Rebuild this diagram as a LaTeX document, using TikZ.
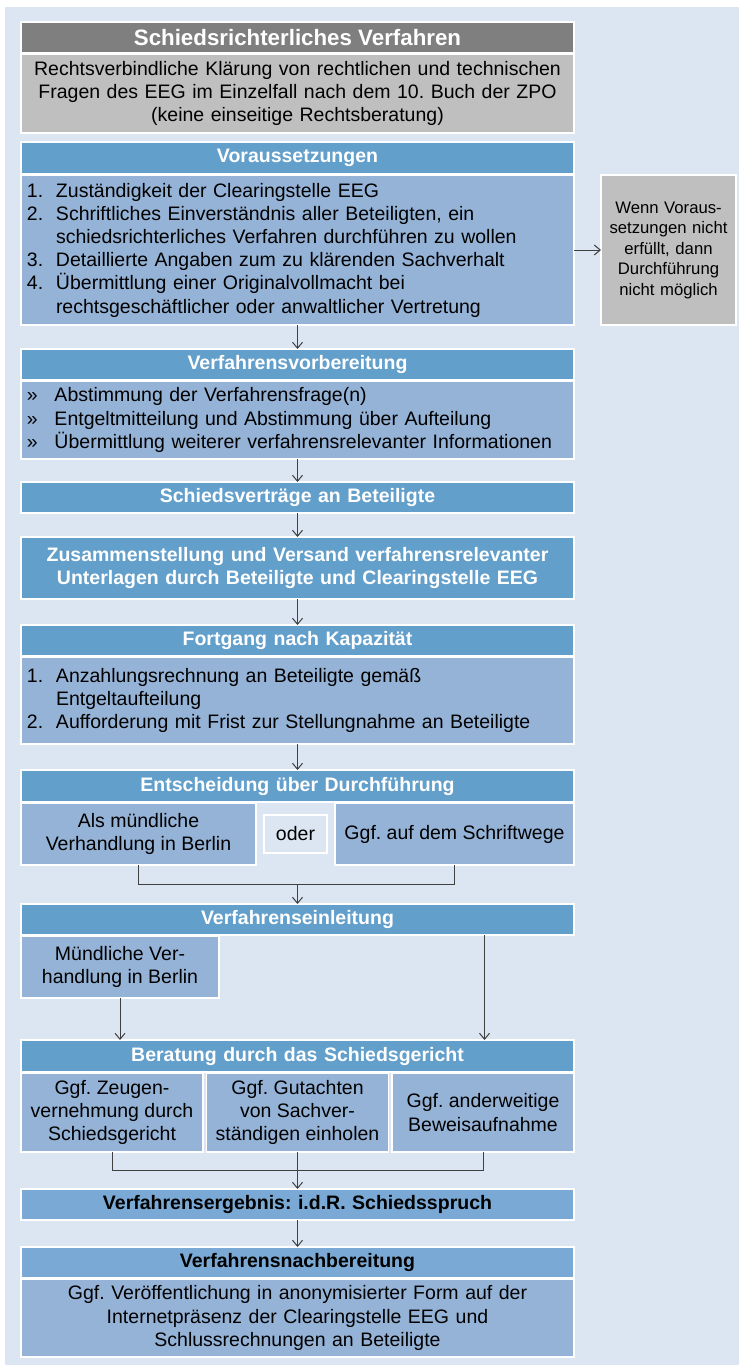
\documentclass[tikz,border=0pt]{standalone}
\usepackage{fontspec}
\setmainfont{Liberation Sans}
\usetikzlibrary{arrows.meta, positioning, calc}
\definecolor{bgblue}{RGB}{220, 230, 242}
\definecolor{headblue}{RGB}{99, 159, 203}
\definecolor{bodyblue}{RGB}{149, 179, 215}
\definecolor{resblue}{RGB}{121, 169, 212}
\definecolor{titlegray}{RGB}{127, 127, 127}
\definecolor{descgray}{RGB}{191, 191, 191}
\definecolor{linegray}{RGB}{64, 64, 64}
\frenchspacing
\newcommand{\bodyfont}{\fontsize{19.5}{23.2}\selectfont}
\newcommand{\sidefont}{\fontsize{16.7}{20.5}\selectfont}
\newcommand{\titlefont}{\fontsize{22.3}{26}\selectfont\bfseries}
\newcommand{\itm}[1]{\makebox[29pt][l]{#1}}
\newcommand{\blt}{\makebox[27.5pt][l]{»}}
\newcommand{\hangpad}{\hspace*{29pt}}

\begin{document}
\begin{tikzpicture}[
  x=1pt, y=1pt,
  node distance=24pt,
  box/.style={rectangle, draw=white, line width=1.5pt, outer sep=0pt, inner sep=0pt,
              minimum width=553pt, font=\bodyfont},
  titlebox/.style={box, fill=titlegray, text=white, minimum height=31pt, font=\titlefont},
  descbox/.style={box, fill=descgray, minimum height=79pt, text width=541pt, align=center},
  head/.style={box, fill=headblue, text=white, minimum height=31pt, text width=541pt,
               align=center, font=\bodyfont\bfseries},
  reshead/.style={head, fill=resblue, text=black},
  body/.style={box, fill=bodyblue, text width=541pt, align=left},
  sub/.style={box, fill=bodyblue, minimum height=62pt, align=center},
  sidebox/.style={box, fill=descgray, minimum width=135pt, minimum height=150pt,
                  text width=130pt, align=center, font=\sidefont},
  oderbox/.style={rectangle, draw=white, line width=2pt, fill=bgblue, inner sep=0pt,
                  minimum width=63pt, minimum height=38pt, font=\bodyfont},
  conn/.style={line width=1pt, draw=linegray},
  arr/.style={conn, -{Straight Barb[length=6pt, width=10pt]}}
]
  \fill[bgblue] (5,-7) rectangle (739,-1365);
  \useasboundingbox (0,0) rectangle (739,-1365);

  \node[titlebox, anchor=north] (title) at (297.5,-22) {Schiedsrichterliches Verfahren};
  \node[descbox, below=1pt of title] (desc) {Rechtsverbindliche Klärung von rechtlichen und technischen\\Fragen des EEG im Einzelfall nach dem 10. Buch der ZPO\\(keine einseitige Rechtsberatung)};

  \node[head, below=9pt of desc, minimum height=32pt] (vorhead) {Voraussetzungen};
  \node[body, below=1pt of vorhead, minimum height=150pt] (vorbody) {\itm{1.}Zuständigkeit der Clearingstelle EEG\\
    \itm{2.}Schriftliches Einverständnis aller Beteiligten, ein\\
    \hangpad schiedsrichterliches Verfahren durchführen zu wollen\\
    \itm{3.}Detaillierte Angaben zum zu klärenden Sachverhalt\\
    \itm{4.}Übermittlung einer Originalvollmacht bei\\
    \hangpad rechtsgeschäftlicher oder anwaltlicher Vertretung};
  \node[sidebox, right=27pt of vorbody] (fail) {Wenn Voraus-\\setzungen nicht\\erfüllt, dann\\Durchführung\\nicht möglich};

  \node[head, below=24pt of vorbody] (vorbhead) {Verfahrensvorbereitung};
  \node[body, below=1pt of vorbhead, minimum height=78pt] (vorbbody) {\blt Abstimmung der Verfahrensfrage(n)\\
    \blt Entgeltmitteilung und Abstimmung über Aufteilung\\
    \blt Übermittlung weiterer verfahrensrelevanter Informationen};

  \node[head, below=23pt of vorbbody] (vertr) {Schiedsverträge an Beteiligte};
  \node[head, below=24pt of vertr, minimum height=62pt] (zus) {Zusammenstellung und Versand verfahrensrelevanter\\Unterlagen durch Beteiligte und Clearingstelle EEG};

  \node[head, below=26pt of zus] (forthead) {Fortgang nach Kapazität};
  \node[body, below=1pt of forthead, minimum height=87pt] (fortbody) {\itm{1.}Anzahlungsrechnung an Beteiligte gemäß\\
    \hangpad Entgeltaufteilung\\
    \itm{2.}Aufforderung mit Frist zur Stellungnahme an Beteiligte};

  \node[head, below=26pt of fortbody, minimum height=32pt] (enthead) {Entscheidung über Durchführung};
  \node[sub, below right=1pt and 0pt of enthead.south west, minimum width=235pt] (entleft) {Als mündliche\\Verhandlung in Berlin};
  \node[sub, below left=1pt and 0pt of enthead.south east, minimum width=239pt] (entright) {Ggf. auf dem Schriftwege};
  \node[oderbox] (oder) at ($(entleft.east)!.5!(entright.west)$) {oder};

  \node[head, below=102pt of enthead] (einhead) {Verfahrenseinleitung};
  \node[sub, below right=1pt and 0pt of einhead.south west, minimum width=198pt] (muend) {Mündliche Ver-\\handlung in Berlin};

  \node[head, below=105pt of einhead, minimum height=32pt] (berhead) {Beratung durch das Schiedsgericht};
  \node[sub, below right=1pt and 0pt of berhead.south west, minimum width=182pt, minimum height=79pt] (ber1) {Ggf. Zeugen-\\vernehmung durch\\Schiedsgericht};
  \node[sub, below=1pt of berhead.south, minimum width=182pt, minimum height=79pt] (ber2) {Ggf. Gutachten\\von Sachver-\\ständigen einholen};
  \node[sub, below left=1pt and 0pt of berhead.south east, minimum width=182pt, minimum height=79pt] (ber3) {Ggf. anderweitige\\Beweisaufnahme};

  \node[reshead, below=37pt of ber2] (erg) {Verfahrensergebnis: i.d.R. Schiedsspruch};
  \node[reshead, below=27pt of erg] (nachhead) {Verfahrensnachbereitung};
  \node[body, below=1pt of nachhead, minimum height=78pt, align=center] (nachbody) {Ggf. Veröffentlichung in anonymisierter Form auf der\\Internetpräsenz der Clearingstelle EEG und\\Schlussrechnungen an Beteiligte};

  \coordinate[above=20pt of einhead.north] (entjoin);
  \coordinate[above=19pt of erg.north] (berjoin);

  \draw[arr] (vorbody) -- (fail);
  \draw[arr] (vorbody) -- (vorbhead);
  \draw[arr] (vorbbody) -- (vertr);
  \draw[arr] (vertr) -- (zus);
  \draw[arr] (zus) -- (forthead);
  \draw[arr] (fortbody) -- (enthead);
  \draw[conn] (entleft) |- (entjoin) -| (entright);
  \draw[arr] (entjoin) -- (einhead);
  \draw[arr] (muend) -- (muend |- berhead.north);
  \draw[arr] ([xshift=187pt]einhead.south) -- ([xshift=187pt]berhead.north);
  \draw[conn] (ber1) |- (berjoin) -| (ber3);
  \draw[conn] (ber2) -- (berjoin);
  \draw[arr] (berjoin) -- (erg);
  \draw[arr] (erg) -- (nachhead);
\end{tikzpicture}
\end{document}
